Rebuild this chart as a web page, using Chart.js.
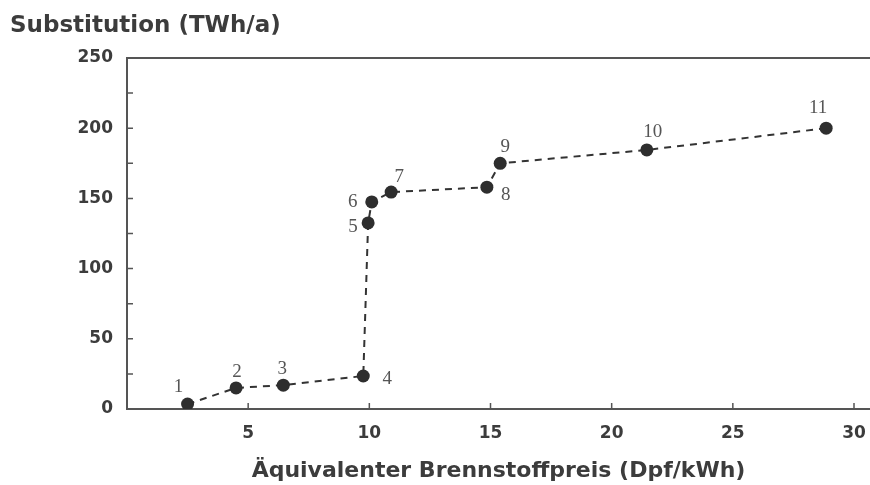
<!DOCTYPE html>
<html>
<head>
<meta charset="utf-8">
<script src="https://cdn.jsdelivr.net/npm/chart.js@4.4.1/dist/chart.umd.min.js"></script>
<style>
  html, body { margin: 0; padding: 0; background: #fff; }
  #wrap { width: 870px; height: 485px; }
</style>
</head>
<body>
<div id="wrap"><canvas id="chart"></canvas></div>
<script>
'use strict';

// Daten: Punkte 1..11
var pointNames = ['1', '2', '3', '4', '5', '6', '7', '8', '9', '10', '11'];
var preis = [2.5, 4.5, 6.45, 9.75, 9.95, 10.1, 10.9, 14.85, 15.4, 21.45, 28.85];
var substitution = [3.5, 15, 17, 23.5, 132.5, 147.5, 154.5, 158, 175, 184.5, 200];

var xTicks = [5, 10, 15, 20, 25, 30];
var yTicks = [0, 50, 100, 150, 200, 250];
var xMax = 30.66;

// Beschriftung der Punkte: Versatz in Pixeln (nur Stil)
var labelOffsets = [[-9, -17], [1, -16], [-1, -16], [24, 3], [-15, 4], [-19, 0],
                    [8, -15], [19, 8], [5, -16], [6, -18], [-8, -20]];

var axisColor = '#555';
var textColor = '#3c3c3c';

var points = [];
for (var i = 0; i < preis.length; i++) {
	points.push({ x: preis[i], y: substitution[i] });
}

// Achsenrahmen, nach innen zeigende Striche und Punktnummern
var deko = {
	id: 'deko',
	afterDraw: function(chart) {
		var ctx = chart.ctx;
		var xs = chart.scales.x, ys = chart.scales.y;
		var a = chart.chartArea;
		ctx.save();
		ctx.strokeStyle = axisColor;
		ctx.lineWidth = 2;
		ctx.beginPath();
		ctx.moveTo(a.left, a.top);
		ctx.lineTo(a.right, a.top);
		ctx.stroke();

		ctx.lineWidth = 1.5;
		ctx.beginPath();
		for (var v = 25; v < 250; v += 25) {
			var py = ys.getPixelForValue(v);
			ctx.moveTo(a.left, py);
			ctx.lineTo(a.left + 6, py);
		}
		xTicks.forEach(function(t) {
			var px = xs.getPixelForValue(t);
			ctx.moveTo(px, a.bottom);
			ctx.lineTo(px, a.bottom - 6);
		});
		ctx.stroke();

		ctx.fillStyle = '#555';
		ctx.font = '19px "Liberation Serif"';
		ctx.textAlign = 'center';
		ctx.textBaseline = 'middle';
		var meta = chart.getDatasetMeta(0);
		meta.data.forEach(function(el, k) {
			ctx.fillText(pointNames[k], el.x + labelOffsets[k][0], el.y + labelOffsets[k][1]);
		});
		ctx.restore();
	}
};

var ctx = document.getElementById('chart');
var chart = new Chart(ctx, {
	type: 'scatter',
	data: {
		datasets: [{
			data: points,
			showLine: true,
			borderColor: '#333',
			borderWidth: 2,
			borderDash: [7, 6],
			pointRadius: 6.5,
			pointBackgroundColor: '#2e2e2e',
			pointBorderColor: '#2e2e2e',
			pointBorderWidth: 0
		}]
	},
	options: {
		responsive: true,
		maintainAspectRatio: false,
		animation: false,
		layout: { autoPadding: false, padding: { left: 10, right: 0, top: 0, bottom: 0 } },
		plugins: {
			legend: { display: false },
			tooltip: { enabled: false },
			title: {
				display: true,
				text: 'Substitution (TWh/a)',
				align: 'start',
				color: textColor,
				font: { family: '"DejaVu Sans"', size: 23, weight: 'bold' },
				padding: { top: 12, bottom: 18.4 }
			}
		},
		scales: {
			x: {
				type: 'linear',
				min: 0,
				max: xMax,
				grid: { display: false, drawTicks: true, tickLength: 14 },
				border: { display: true, color: axisColor, width: 2 },
				afterFit: function(s) { s.height = 76; },
				afterBuildTicks: function(s) {
					s.ticks = xTicks.concat([xMax]).map(function(v) { return { value: v }; });
				},
				ticks: {
					color: textColor,
					padding: 0,
					maxRotation: 0,
					autoSkip: false,
					font: { family: '"DejaVu Sans"', size: 17, weight: 'bold' },
					callback: function(v) { return xTicks.indexOf(v) >= 0 ? String(v) : ''; }
				},
				title: {
					display: true,
					text: 'Äquivalenter Brennstoffpreis (Dpf/kWh)',
					color: textColor,
					font: { family: '"DejaVu Sans"', size: 22, weight: 'bold' },
					padding: { top: 0, bottom: 1 }
				}
			},
			y: {
				min: 0,
				max: 250,
				grid: { display: false, drawTicks: false },
				border: { display: true, color: axisColor, width: 2 },
				afterFit: function(s) { s.width = 117; },
				afterBuildTicks: function(s) {
					s.ticks = yTicks.map(function(v) { return { value: v }; });
				},
				ticks: {
					color: textColor,
					padding: 14,
					font: { family: '"DejaVu Sans"', size: 17, weight: 'bold' }
				}
			}
		}
	},
	plugins: [deko]
});
</script>
</body>
</html>
